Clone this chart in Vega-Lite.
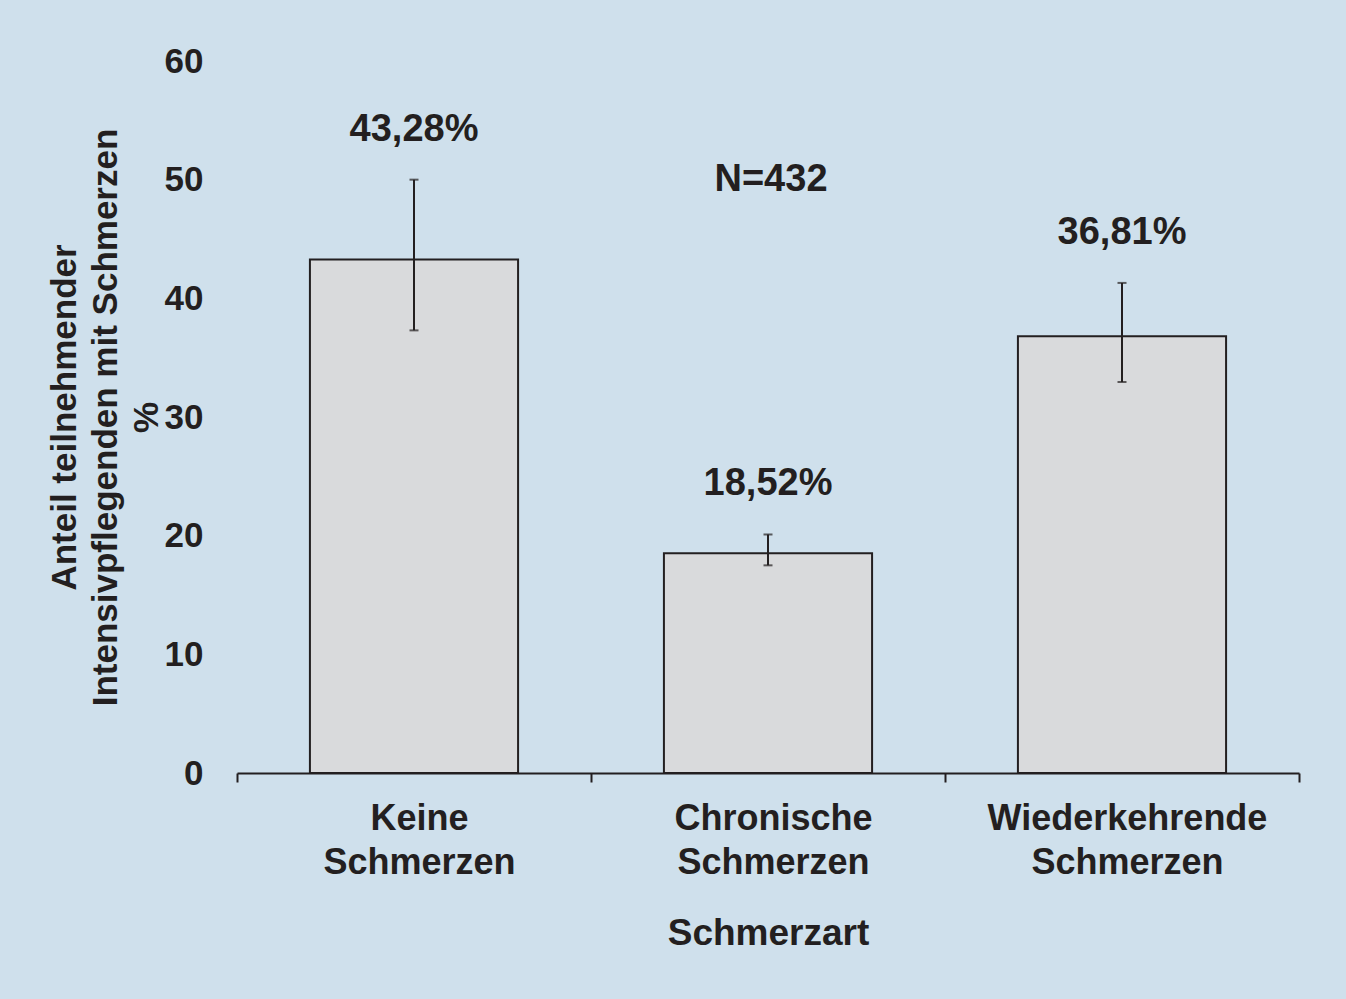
{
  "$schema": "https://vega.github.io/schema/vega-lite/v6.json",
  "width": 1062,
  "height": 712,
  "autosize": {"type": "none"},
  "padding": {"left": 237, "top": 61, "right": 47, "bottom": 226},
  "background": "#cfe0ec",
  "config": {
    "view": {"stroke": null},
    "font": "Liberation Sans",
    "axis": {"labelFont": "Liberation Sans", "titleFont": "Liberation Sans"}
  },
  "data": {
    "values": [
      {"Schmerzart": "Keine Schmerzen", "Anteil": 43.28, "lower": 37.3, "upper": 50.0, "label": "43,28%"},
      {"Schmerzart": "Chronische Schmerzen", "Anteil": 18.52, "lower": 17.5, "upper": 20.1, "label": "18,52%"},
      {"Schmerzart": "Wiederkehrende Schmerzen", "Anteil": 36.81, "lower": 32.95, "upper": 41.3, "label": "36,81%"}
    ]
  },
  "encoding": {
    "x": {
      "field": "Schmerzart",
      "type": "nominal",
      "sort": null,
      "scale": {"paddingInner": 0, "paddingOuter": 0},
      "axis": {
        "title": "Schmerzart",
        "labelAngle": 0,
        "labelLimit": 0,
        "labelOffset": 5,
        "labelExpr": "split(datum.label, ' ')",
        "labelFontSize": 36,
        "labelFontWeight": "bold",
        "labelColor": "#231f20",
        "labelLineHeight": 44,
        "labelPadding": 19,
        "labelBaseline": "top",
        "tickBand": "extent",
        "tickSize": 9,
        "tickWidth": 2,
        "tickColor": "#231f20",
        "domainColor": "#231f20",
        "domainWidth": 2,
        "titleFontSize": 37,
        "titleFontWeight": "bold",
        "titleColor": "#231f20",
        "titlePadding": 35
      }
    }
  },
  "layer": [
    {
      "mark": {"type": "bar", "fill": "#d9dadc", "stroke": "#231f20", "strokeWidth": 2, "width": {"band": 0.588}},
      "encoding": {
        "y": {
          "field": "Anteil",
          "type": "quantitative",
          "scale": {"domain": [0, 60]},
          "axis": {
            "values": [0, 10, 20, 30, 40, 50, 60],
            "grid": false,
            "domain": false,
            "ticks": false,
            "labelPadding": 34,
            "labelFontSize": 35,
            "labelFontWeight": "bold",
            "labelColor": "#231f20",
            "title": ["Anteil teilnehmender", "Intensivpflegenden mit Schmerzen", "%"],
            "titleFontSize": 35,
            "titleFontWeight": "bold",
            "titleColor": "#231f20",
            "titleLineHeight": 41,
            "titlePadding": 0
          }
        }
      }
    },
    {
      "mark": {"type": "rule", "stroke": "#231f20", "strokeWidth": 2},
      "encoding": {
        "y": {"field": "lower", "type": "quantitative"},
        "y2": {"field": "upper"}
      }
    },
    {
      "mark": {"type": "tick", "color": "#231f20", "size": 9, "thickness": 2},
      "encoding": {"y": {"field": "lower", "type": "quantitative"}}
    },
    {
      "mark": {"type": "tick", "color": "#231f20", "size": 9, "thickness": 2},
      "encoding": {"y": {"field": "upper", "type": "quantitative"}}
    },
    {
      "mark": {"type": "text", "dy": -50, "baseline": "middle", "fontSize": 38, "fontWeight": "bold", "color": "#231f20"},
      "encoding": {
        "y": {"field": "upper", "type": "quantitative"},
        "text": {"field": "label"}
      }
    },
    {
      "data": {"values": [{"Schmerzart": "Chronische Schmerzen", "pos": 50, "txt": "N=432"}]},
      "mark": {"type": "text", "baseline": "middle", "dx": 3, "fontSize": 38, "fontWeight": "bold", "color": "#231f20"},
      "encoding": {
        "y": {"field": "pos", "type": "quantitative"},
        "text": {"field": "txt"}
      }
    }
  ]
}
